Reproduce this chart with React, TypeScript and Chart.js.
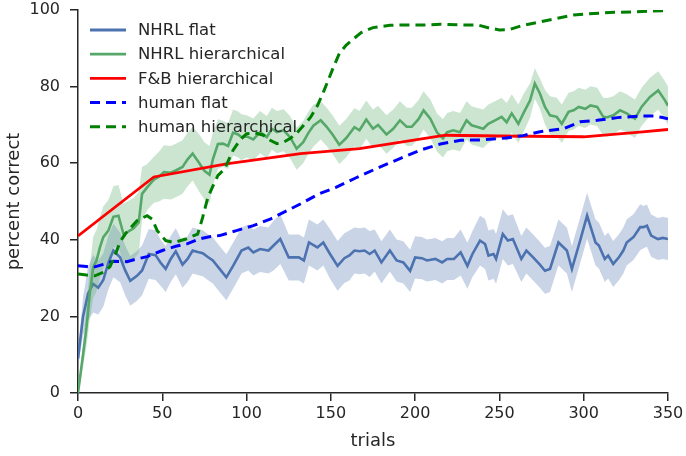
import React, { useEffect, useRef } from "react";
import { Chart, registerables } from "chart.js";

Chart.register(...registerables);

const FONT = "'DejaVu Sans', sans-serif";
const TEXT = "#262626";

// NHRL flat (mean and half-width of shaded band)
const flatX = [0,3,6,9,12,15,18,21,25,28,31,35,38,42,46,49,52,55,58,62,65,68,71,74,77,80,84,88,92,97,101,104,108,113,116,120,125,131,134,137,142,145.5,149.5,154,158,161,164,167,170,173,176,180,185,189,193,197,200,204,207,212,216,219,223,227,231,234,238.5,241.5,243.5,246.5,248,252,255,258,263,266,270,274,277,280,285,290,293,298,302,307,309,312.5,314.5,317.5,321,323.5,325.5,329.5,333.5,335.5,337.5,340,344,347,350];
const flatY = [9,20,26,28.5,27.5,29.5,34,37.2,35.4,32,29.3,30.6,32,36.3,36,34,32.4,35,37,33.5,35,37.2,36.8,36.5,35.5,34.6,32.4,30.2,33.2,37.2,38,36.7,37.6,37.2,38.5,40.2,35.4,35.4,34.6,39.3,38,39.3,36.3,33.2,35.2,35.9,37.2,37,37.2,36.3,37.2,34.1,37.2,34.6,34.1,31.9,35.4,35.2,34.6,35,34.1,35,35,36.7,33.2,36.3,39.8,38.9,35.9,36.3,35,41.5,39.8,40.2,35,37.2,35.4,33.5,31.9,32.4,39.3,37.2,32.4,40,46.3,39.3,38.5,35,35.9,33.7,35.5,37.2,39.3,40.7,43.3,43.3,43.7,41.1,40.2,40.5,40.2];
const flatErr = [2,5,7,7.5,7,7,7,7,6.5,6.5,6.5,6.5,6.5,6.5,6.5,6,6,6,6,6,6,6,6,6,6,6,6,6,6,6,6,6,6,6,6.5,6.5,6,6,6,6,6,6,6.5,6.5,6.5,6.5,6,6,6,6,5.5,5.5,5.5,5.5,5.5,5.5,5.5,5.5,5.5,5.5,5.5,5.5,5.5,6,6,6,6.5,6.5,6.5,6.5,6.5,6.5,6.5,6.5,6,6,6,6,6,6,6,6,6,6,6,6,6,6,6,6,6,6,6,6,6,5.5,5.5,5.5,5.5,5.5,5.5];

// NHRL hierarchical
const hierX = [0,3,5,7,9,11,13,15,18,21,24,27,30,33,36,38,41,45,48,51,55,58,62,65,68,72,75,78,80,83,86,89,92,95,97,100,104,108,112,115,118,122,125.8,129.7,133.6,136.5,139.6,144,147.5,151,155,159,164,167,171,175,178,183,187,191,195,198,202,205,209,213,216.5,219,222.6,226.6,230.5,233.5,236.5,240.4,243.4,247.4,251.3,254.3,257.3,261.2,264.2,268.2,271,274,277,280,284,287,291,294,297,301,304,308,311.6,314,317.6,321.5,325.5,330.4,334.3,339.3,344.2,348.2,350];
const hierY = [0,10,17,26,32.8,34.6,38,40.7,42.4,46,46.3,41.5,42.2,43,44.5,52,53.7,55.7,56.5,57.7,57.5,58.1,59,61,62.5,60,58,57,61,65,65.1,64.5,68,67.5,66.8,67,66.2,68.1,66.8,69,68.1,68.6,66.8,63.8,65.5,67.8,69.8,71.2,69.5,67.5,64.8,66.5,69.4,68.6,71.4,69,70,67.5,69,71.2,69.5,69.5,71.5,73.8,71.6,68,66.5,68.1,68.6,68.1,71.2,69.9,69.5,69,70.3,71.2,72.1,70.7,73,70.3,73,76.4,80.8,78.2,74.7,72.5,72.1,70.3,73.4,73.8,74.7,74.2,75.1,74.7,72.1,72,72.5,73.8,73,71.6,74.7,77.3,79,76.4,75];
const hierErr = [0.5,3,5,7,8,8,8,8,8,8,8,8,8,8,8,7,6,6,6.5,7,7,7,7,7,7,7.5,7.5,7.5,7,6.5,6,6,6,6,6,5.5,5.5,5.5,5.5,5.5,5.5,5.5,5.5,5.5,5.5,5.5,5.5,5,5,5,5,5,5,5,5,5,5,5,5,5,5,5,5,5,5,5,5,5,5,5,5,5,5,5,5,5,5,5,5,5,5,4.5,4,4,4.5,5,5,5,5,5,5,5,5,5,5,5,5,5,5,5,5,5,5,5,5];

// F&B hierarchical
const fbX = [0,45,88,132,167,218,250,300,335,350];
const fbY = [41,56.4,59.8,62.5,63.8,67.3,67.1,66.9,68.2,68.8];

// human flat
const hfX = [0,5,9,15,21,29,35,41,50,58,65,72,78,84,94,104,114,124,133,143,153,165,179,191,203,215,227,240,254,264,274,288,298,308,320,333,341,346,350];
const hfY = [33.2,33,32.8,33.6,34.4,34.3,35,35.6,37.2,38.3,39,40.2,40.8,41.1,42.4,43.7,45.4,47.6,49.6,52,53.7,56.2,59,61.2,63.4,65,66,66.1,66.6,67.2,68.2,69,70.8,71.2,71.9,72.3,72.3,72,71.6];

// human hierarchical
const hhX = [0,5,10,15,19,22,25,28,31,35,41,44,47,52,57,64,71,74,77,80,83,87,92,96,100,105,110,114,118,122,126,130,134,138,142,146,151,155,159,163,168,175,185,195,207,215,227,237,244,250,256,264,274,284,294,306,318,330,338,350];
const hhY = [31.1,30.8,30.6,31.5,33,36,39.5,41.5,43,45,46.3,45.4,42.4,39.8,39.3,40.2,41.5,45.9,51,54,56.8,58.5,63.4,66,67.7,67.9,67.3,66,65.1,65.5,66.5,68,70,72,75,79,84.5,88.6,90.8,92.3,94.1,95.4,96,96.1,96.1,96.3,96.1,96.1,95.3,94.8,94.9,96,96.9,97.8,98.7,99.1,99.4,99.5,99.7,99.8];

const xTicks = [0, 50, 100, 150, 200, 250, 300, 350];
const yTicks = [0, 20, 40, 60, 80, 100];

const legendLabels = ["NHRL flat", "NHRL hierarchical", "F&B hierarchical", "human flat", "human hierarchical"];
const legendColors = ["#4C72B0", "#55A868", "#FF0000", "#0000FF", "#008000"];
const legendDashed = [false, false, false, true, true];

const pts = (xs: number[], ys: number[]) => xs.map((x, i) => ({ x, y: ys[i] }));
const band = (xs: number[], ys: number[], es: number[], s: number) =>
  xs.map((x, i) => ({ x, y: ys[i] + s * es[i] }));

const legendPlugin = {
  id: "customLegend",
  afterDraw(chart: any) {
    const ctx = chart.ctx;
    ctx.save();
    legendLabels.forEach((lab, i) => {
      const y = 30 + i * 24.2;
      ctx.beginPath();
      ctx.strokeStyle = legendColors[i];
      ctx.lineWidth = i >= 3 ? 3 : 2.8;
      ctx.setLineDash(legendDashed[i] ? [10, 6] : []);
      ctx.moveTo(90, y);
      ctx.lineTo(126, y);
      ctx.stroke();
      ctx.setLineDash([]);
      ctx.fillStyle = TEXT;
      ctx.font = `16.5px ${FONT}`;
      ctx.textBaseline = "middle";
      ctx.textAlign = "left";
      ctx.fillText(lab, 138, y + 1);
    });
    ctx.restore();
  },
};

export default function App() {
  const ref = useRef<HTMLCanvasElement>(null);
  useEffect(() => {
    if (!ref.current) return;
    const axisCommon = {
      grid: { drawOnChartArea: false, drawTicks: true, tickLength: 8, color: TEXT, lineWidth: 1.5 },
      border: { display: true, color: TEXT, width: 1.5 },
    };
    const chart = new Chart(ref.current, {
      type: "line",
      data: {
        datasets: [
          { data: band(flatX, flatY, flatErr, 1), fill: "+1", backgroundColor: "rgba(76,114,176,0.3)", borderColor: "transparent", borderWidth: 0, pointRadius: 0, order: 10 },
          { data: band(flatX, flatY, flatErr, -1), fill: false, borderColor: "transparent", borderWidth: 0, pointRadius: 0, order: 10 },
          { data: band(hierX, hierY, hierErr, 1), fill: "+1", backgroundColor: "rgba(85,168,104,0.3)", borderColor: "transparent", borderWidth: 0, pointRadius: 0, order: 8 },
          { data: band(hierX, hierY, hierErr, -1), fill: false, borderColor: "transparent", borderWidth: 0, pointRadius: 0, order: 8 },
          { label: legendLabels[0], data: pts(flatX, flatY), borderColor: legendColors[0], borderWidth: 2.6, pointRadius: 0, fill: false, order: 9 },
          { label: legendLabels[1], data: pts(hierX, hierY), borderColor: legendColors[1], borderWidth: 2.6, pointRadius: 0, fill: false, order: 7 },
          { label: legendLabels[2], data: pts(fbX, fbY), borderColor: legendColors[2], borderWidth: 2.8, pointRadius: 0, fill: false, order: 6 },
          { label: legendLabels[3], data: pts(hfX, hfY), borderColor: legendColors[3], borderWidth: 3, borderDash: [10, 6], pointRadius: 0, fill: false, order: 5 },
          { label: legendLabels[4], data: pts(hhX, hhY), borderColor: legendColors[4], borderWidth: 3, borderDash: [10, 6], pointRadius: 0, fill: false, order: 4 },
        ],
      },
      options: {
        animation: false,
        responsive: false,
        maintainAspectRatio: false,
        layout: { padding: { top: 10, right: 18, left: 0, bottom: 0 } },
        plugins: { legend: { display: false }, tooltip: { enabled: false } },
        elements: { point: { radius: 0 }, line: { tension: 0 } },
        scales: {
          x: {
            type: "linear",
            min: 0,
            max: 350,
            afterBuildTicks: (s: any) => { s.ticks = xTicks.map((v) => ({ value: v })); },
            ticks: { font: { family: FONT, size: 16 }, color: TEXT, padding: 3, maxRotation: 0 },
            ...axisCommon,
            title: { display: true, text: "trials", color: TEXT, font: { family: FONT, size: 18 }, padding: { top: 0, bottom: 4 } },
            afterFit: (s: any) => { s.height = 63; s.paddingLeft = 0; s.paddingRight = 0; },
          },
          y: {
            type: "linear",
            min: 0,
            max: 100,
            afterBuildTicks: (s: any) => { s.ticks = yTicks.map((v) => ({ value: v })); },
            ticks: { font: { family: FONT, size: 16 }, color: TEXT, padding: 10 },
            ...axisCommon,
            title: { display: true, text: "percent correct", color: TEXT, font: { family: FONT, size: 18 }, padding: { top: 4, bottom: 0 } },
            afterFit: (s: any) => { s.width = 78; s.paddingTop = 0; s.paddingBottom = 0; },
          },
        },
      } as any,
      plugins: [legendPlugin],
    });
    return () => chart.destroy();
  }, []);
  return (
    <div style={{ position: "absolute", left: 0, top: 0, width: 686, height: 456, background: "#fff" }}>
      <canvas ref={ref} width={686} height={456} style={{ display: "block", width: 686, height: 456 }} />
    </div>
  );
}
